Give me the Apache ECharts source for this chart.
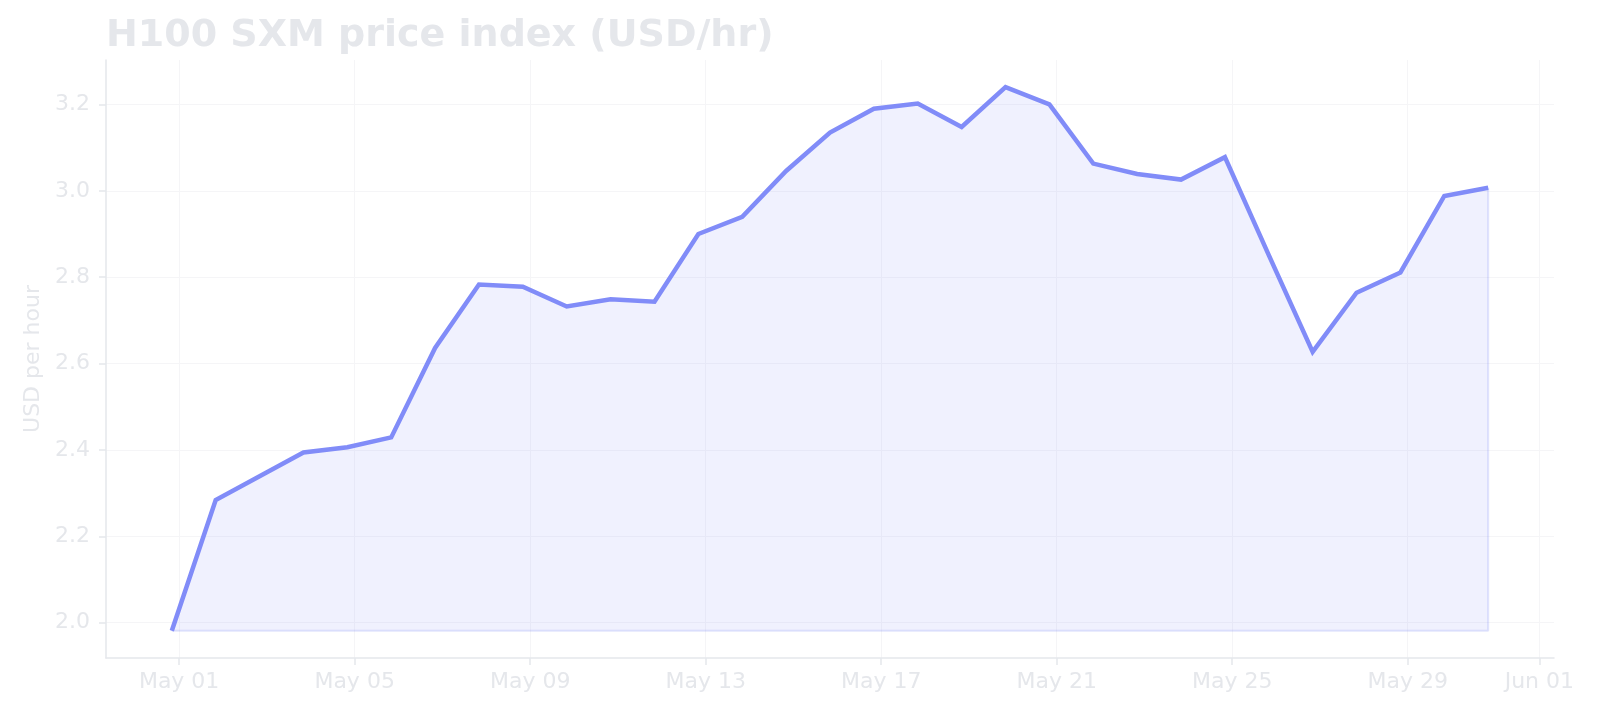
<!DOCTYPE html>
<html>
<head>
<meta charset="utf-8">
<script src="https://cdn.jsdelivr.net/npm/echarts@6/dist/echarts.min.js"></script>
<style>
  html, body { margin: 0; padding: 0; background: #ffffff; }
  #chart { width: 1600px; height: 720px; }
</style>
</head>
<body>
<div id="chart"></div>
<script>
// ---- data ----
const titleText = 'H100 SXM price index (USD/hr)';
const yAxisName = 'USD per hour';

const sampleTimes = [
  '2024-04-30T20:00:00Z', '2024-05-01T20:00:00Z', '2024-05-02T20:00:00Z', '2024-05-03T20:00:00Z',
  '2024-05-04T20:00:00Z', '2024-05-05T20:00:00Z', '2024-05-06T20:00:00Z', '2024-05-07T20:00:00Z',
  '2024-05-08T20:00:00Z', '2024-05-09T20:00:00Z', '2024-05-10T20:00:00Z', '2024-05-11T20:00:00Z',
  '2024-05-12T20:00:00Z', '2024-05-13T20:00:00Z', '2024-05-14T20:00:00Z', '2024-05-15T20:00:00Z',
  '2024-05-16T20:00:00Z', '2024-05-17T20:00:00Z', '2024-05-18T20:00:00Z', '2024-05-19T20:00:00Z',
  '2024-05-20T20:00:00Z', '2024-05-21T20:00:00Z', '2024-05-22T20:00:00Z', '2024-05-23T20:00:00Z',
  '2024-05-24T20:00:00Z', '2024-05-25T20:00:00Z', '2024-05-26T20:00:00Z', '2024-05-27T20:00:00Z',
  '2024-05-28T20:00:00Z', '2024-05-29T20:00:00Z', '2024-05-30T20:00:00Z'
];

const priceValues = [
  1.981, 2.284, 2.339, 2.394, 2.406, 2.429, 2.636, 2.783,
  2.778, 2.732, 2.749, 2.743, 2.900, 2.940, 3.046, 3.135,
  3.190, 3.202, 3.148, 3.240, 3.200, 3.063, 3.039, 3.026,
  3.078, 2.851, 2.627, 2.764, 2.811, 2.988, 3.007
];

const xTickDates = [
  '2024-05-01T00:00:00Z', '2024-05-05T00:00:00Z', '2024-05-09T00:00:00Z', '2024-05-13T00:00:00Z',
  '2024-05-17T00:00:00Z', '2024-05-21T00:00:00Z', '2024-05-25T00:00:00Z', '2024-05-29T00:00:00Z',
  '2024-06-01T00:00:00Z'
];
const xTickLabels = ['May 01', 'May 05', 'May 09', 'May 13', 'May 17', 'May 21', 'May 25', 'May 29', 'Jun 01'];

const yTickValues = [2.0, 2.2, 2.4, 2.6, 2.8, 3.0, 3.2];
const yTickLabels = ['2.0', '2.2', '2.4', '2.6', '2.8', '3.0', '3.2'];

// ---- derived ----
const times = sampleTimes.map(s => Date.parse(s));
const tickMs = xTickDates.map(s => Date.parse(s));
const seriesData = times.map((t, i) => [t, priceValues[i]]);
const vMin = Math.min(...priceValues);
const vMax = Math.max(...priceValues);
const vRange = vMax - vMin;
const tFirst = times[0];
const tLast = times[times.length - 1];
const xSpan = tLast - tFirst;
const edgeData = [[tLast, priceValues[priceValues.length - 1]], [tLast, vMin], [tFirst, vMin]];

const TEXT = '#e5e7eb';
const AXIS = '#e5e7eb';
const GRIDC = '#f5f5f7';
const LINE = '#818cf8';
const FONT = 'DejaVu Sans';

const chart = echarts.init(document.getElementById('chart'), null, { renderer: 'canvas' });
chart.setOption({
  animation: false,
  backgroundColor: '#ffffff',
  title: {
    text: titleText,
    left: 106,
    top: 15,
    padding: 0,
    textStyle: {
      color: TEXT,
      fontFamily: FONT,
      fontWeight: 'bold',
      fontSize: 38,
      lineHeight: 42
    }
  },
  grid: { left: 106, right: 46, top: 60, bottom: 62, outerBoundsMode: 'none' },
  xAxis: {
    type: 'value',
    min: tFirst - xSpan * 0.05,
    max: tLast + xSpan * 0.05,
    axisLine: { show: true, onZero: false, lineStyle: { color: AXIS, width: 1.5 } },
    axisTick: { show: true, length: 7, customValues: tickMs, lineStyle: { color: AXIS, width: 1.5 } },
    axisLabel: {
      customValues: tickMs,
      color: TEXT, fontFamily: FONT, fontSize: 22, margin: 13,
      formatter: function (v) {
        const i = tickMs.indexOf(v);
        return i >= 0 ? xTickLabels[i] : '';
      }
    },
    splitLine: { show: true, lineStyle: { color: GRIDC, width: 1 } }
  },
  yAxis: {
    type: 'value',
    min: vMin - vRange * 0.05,
    max: vMax + vRange * 0.05,
    name: yAxisName,
    nameLocation: 'middle',
    nameGap: 61,
    nameTextStyle: { color: TEXT, fontFamily: FONT, fontSize: 22 },
    axisLine: { show: true, onZero: false, lineStyle: { color: AXIS, width: 1.5 } },
    axisTick: { show: true, length: 7, customValues: yTickValues, lineStyle: { color: AXIS, width: 1.5 } },
    axisLabel: {
      customValues: yTickValues,
      color: TEXT, fontFamily: FONT, fontSize: 22, margin: 16,
      formatter: function (v) {
        const i = yTickValues.findIndex(x => Math.abs(x - v) < 1e-9);
        return i >= 0 ? yTickLabels[i] : '';
      }
    },
    splitLine: { show: true, lineStyle: { color: GRIDC, width: 1 } }
  },
  series: [
    {
      type: 'line',
      data: edgeData,
      showSymbol: false,
      silent: true,
      z: 1,
      lineStyle: { color: 'rgba(129,140,248,0.22)', width: 2 }
    },
    {
      type: 'line',
      data: seriesData,
      showSymbol: false,
      z: 2,
      lineStyle: { color: LINE, width: 4.5, join: 'miter' },
      areaStyle: { color: 'rgba(129,140,248,0.17)', origin: vMin }
    }
  ]
});
</script>
</body>
</html>
